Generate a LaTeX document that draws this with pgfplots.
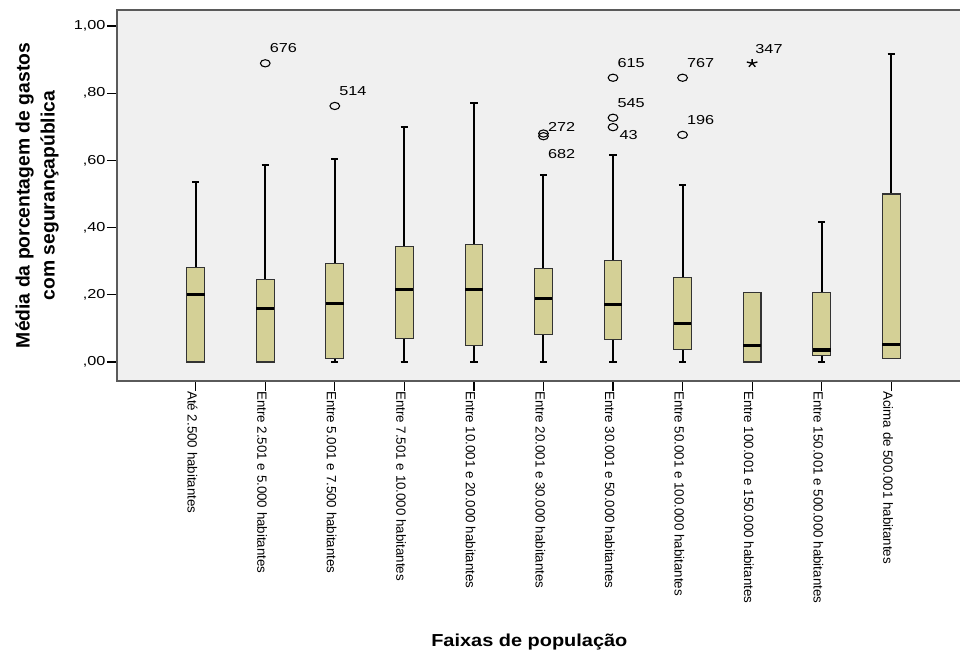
\documentclass[border=0pt]{standalone}
\usepackage{fontspec}
\setmainfont{Liberation Sans}
\newfontfamily\hfont[FakeStretch=1.25]{Liberation Sans}
\newfontfamily\xlfont[FakeStretch=1.15]{Liberation Sans}
\usepackage{pgfplots}
\pgfplotsset{compat=1.18}
\usepgfplotslibrary{statistics}
\definecolor{bggray}{RGB}{240,240,240}
\definecolor{boxfill}{RGB}{212,208,150}
\definecolor{axgray}{RGB}{90,90,90}
\begin{document}
\begin{tikzpicture}
\path[use as bounding box] (-87.75pt,-204.75pt) rectangle (632.25pt,285.75pt);
\begin{axis}[
 at={(0pt,0pt)}, anchor=south west,
 scale only axis, width=634.5pt, height=278.25pt,
 xmin=-1.1316, xmax=11.032, ymin=-0.0565, ymax=1.0476,
 axis background/.style={fill=bggray},
 axis line style={draw=axgray, line width=1.1pt},
 xtick={0,...,10},
 xticklabels={Até 2.500 habitantes,
   Entre 2.501 e 5.000 habitantes,
   Entre 5.001 e 7.500 habitantes,
   Entre 7.501 e 10.000 habitantes,
   Entre 10.001 e 20.000 habitantes,
   Entre 20.001 e 30.000 habitantes,
   Entre 30.001 e 50.000 habitantes,
   Entre 50.001 e 100.000 habitantes,
   Entre 100.001 e 150.000 habitantes,
   Entre 150.001 e 500.000 habitantes,
   Acima de 500.001 habitantes},
 ytick={0,0.2,0.4,0.6,0.8,1},
 yticklabels={{,00},{,20},{,40},{,60},{,80},{1,00}},
 tick align=outside, xtick pos=bottom, ytick pos=left,
 major tick length=7.5pt,
 tick style={black, line width=0.9pt},
 yticklabel style={font=\hfont\fontsize{9.75}{11}\selectfont, inner sep=1pt},
 xticklabel style={font=\fontsize{10}{12}\selectfont, rotate=-90, anchor=north west, inner sep=0pt, yshift=1.5pt},
 ylabel={Média da porcentagem de gastos\\com segurançapública},
 ylabel style={at={(axis description cs:-0.0946,0.5)}, anchor=center, align=center, font=\bfseries\fontsize{14.5}{18.75}\selectfont},
 xlabel={Faixas de população},
 xlabel style={at={(axis description cs:0.5,0)}, anchor=base, yshift=-199.3pt, xshift=-8pt, font=\xlfont\bfseries\fontsize{13}{15}\selectfont},
 boxplot/draw direction=y,
 boxplot/box extend=0.255,
 boxplot/whisker extend=0.105,
 boxplot/every box/.style={draw=black!80, fill=boxfill, line width=0.8pt},
 boxplot/every whisker/.style={black, line width=1.5pt},
 boxplot/every median/.style={black, line width=2.4pt},
]
% boxes
\addplot[boxplot prepared={draw position=0, lower whisker=0, lower quartile=0, median=0.202, upper quartile=0.281, upper whisker=0.537}] coordinates {};
\addplot[boxplot prepared={draw position=1, lower whisker=0, lower quartile=0, median=0.159, upper quartile=0.246, upper whisker=0.585}] coordinates {};
\addplot[boxplot prepared={draw position=2, lower whisker=0, lower quartile=0.011, median=0.173, upper quartile=0.294, upper whisker=0.604}] coordinates {};
\addplot[boxplot prepared={draw position=3, lower whisker=0, lower quartile=0.069, median=0.216, upper quartile=0.343, upper whisker=0.699}] coordinates {};
\addplot[boxplot prepared={draw position=4, lower whisker=0, lower quartile=0.050, median=0.216, upper quartile=0.351, upper whisker=0.772}] coordinates {};
\addplot[boxplot prepared={draw position=5, lower whisker=0, lower quartile=0.082, median=0.188, upper quartile=0.278, upper whisker=0.557}] coordinates {};
\addplot[boxplot prepared={draw position=6, lower whisker=0, lower quartile=0.068, median=0.172, upper quartile=0.302, upper whisker=0.615}] coordinates {};
\addplot[boxplot prepared={draw position=7, lower whisker=0, lower quartile=0.036, median=0.114, upper quartile=0.252, upper whisker=0.528}] coordinates {};
\addplot[boxplot prepared={draw position=8, lower whisker=0, lower quartile=0, median=0.048, upper quartile=0.208, upper whisker=0.208, whisker extend=0}] coordinates {};
\addplot[boxplot prepared={draw position=9, lower whisker=0, lower quartile=0.019, median=0.036, upper quartile=0.206, upper whisker=0.418}] coordinates {};
\addplot[boxplot prepared={draw position=10, lower whisker=0.011, lower quartile=0.011, median=0.051, upper quartile=0.500, upper whisker=0.916}] coordinates {};
% outliers, labels above right
\addplot[only marks, mark=o, mark size=2.7pt, mark options={xscale=1.35, line width=0.8pt, black},
  nodes near coords, point meta=explicit symbolic,
  every node near coord/.append style={anchor=base west, inner sep=0pt, xshift=3pt, yshift=8pt, black, font=\hfont\fontsize{9.75}{11}\selectfont}]
  coordinates {(1,0.889)[676] (2,0.762)[514] (6,0.846)[615] (6,0.727)[545] (7,0.846)[767] (7,0.676)[196]};
\addplot[only marks, mark=o, mark size=2.7pt, mark options={xscale=1.35, line width=0.8pt, black},
  nodes near coords, point meta=explicit symbolic,
  every node near coord/.append style={anchor=base west, inner sep=0pt, xshift=3pt, yshift=1.5pt, black, font=\hfont\fontsize{9.75}{11}\selectfont}]
  coordinates {(5,0.680)[272]};
\addplot[only marks, mark=o, mark size=2.7pt, mark options={xscale=1.35, line width=0.8pt, black},
  nodes near coords, point meta=explicit symbolic,
  every node near coord/.append style={anchor=base west, inner sep=0pt, xshift=3pt, yshift=-16.5pt, black, font=\hfont\fontsize{9.75}{11}\selectfont}]
  coordinates {(5,0.672)[682]};
\addplot[only marks, mark=o, mark size=2.7pt, mark options={xscale=1.35, line width=0.8pt, black},
  nodes near coords, point meta=explicit symbolic,
  every node near coord/.append style={anchor=base west, inner sep=0pt, xshift=4.5pt, yshift=-9pt, black, font=\hfont\fontsize{9.75}{11}\selectfont}]
  coordinates {(6,0.699)[43]};
% extreme value
\addplot[only marks, mark=star, mark size=3.2pt, mark options={xscale=1.3, line width=1pt, black},
  nodes near coords, point meta=explicit symbolic,
  every node near coord/.append style={anchor=base west, inner sep=0pt, xshift=2pt, yshift=7.5pt, black, font=\hfont\fontsize{9.75}{11}\selectfont}]
  coordinates {(8,0.889)[347]};
\end{axis}
\end{tikzpicture}
\end{document}
